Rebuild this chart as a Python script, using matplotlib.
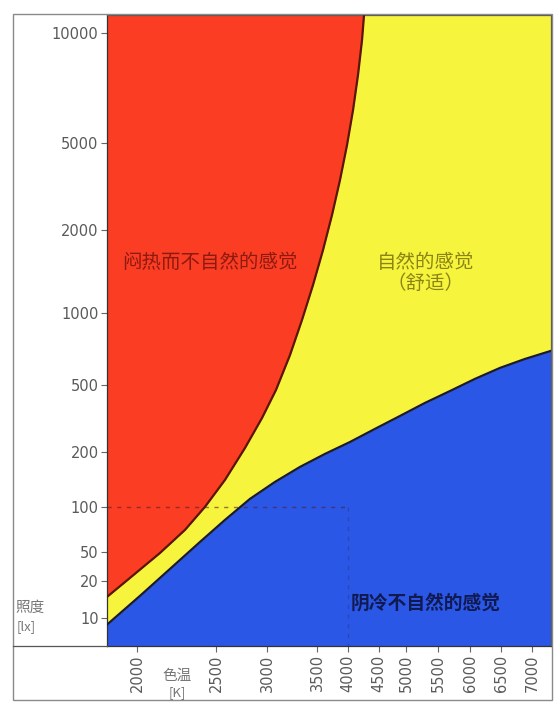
import numpy as np
import matplotlib
matplotlib.use("Agg")
import matplotlib.pyplot as plt
from matplotlib.lines import Line2D
from matplotlib.patches import Rectangle

# ---- data -------------------------------------------------------------
x_ticks = [2000, 2500, 3000, 3500, 4000, 4500, 5000, 5500, 6000, 6500, 7000]
y_ticks = [10, 20, 50, 100, 200, 500, 1000, 2000, 5000, 10000]

# lower comfort boundary (below: cold / unnatural)
t_low = [1810, 2019, 2209, 2399, 2588, 2833, 3080, 3330, 3629, 4032,
         4435, 4889, 5297, 5688, 6081, 6484, 6887, 7306]
e_low = [8.8, 15.1, 29.2, 58.3, 81.8, 110.6, 137, 165.5, 195, 229,
         274, 327, 391, 460, 530, 589, 642, 694]

# upper comfort boundary (above: hot / unnatural)
t_up = [1810, 1956, 2146, 2304, 2430, 2588, 2784, 2951, 3090, 3230,
        3350, 3460, 3597, 3742, 3871, 3984, 4081, 4161, 4226, 4258]
e_up = [14.8, 22.0, 48.4, 70.2, 100, 140.5, 211, 318, 467, 667,
        935, 1263, 1692, 2342, 3388, 4894, 6155, 7674, 9570, 11200]

ref_temp = 4000
ref_lux = 100

label_hot = "闷热而不自然的感觉"
label_ok = "自然的感觉\n（舒适）"
label_cold = "阴冷不自然的感觉"

# ---- axis scales (hand-spaced graduations) ---------------------------
_xk = np.array(x_ticks, dtype=float)
_xp = np.array([137, 216, 267, 317, 348, 379, 406, 438, 470, 501, 532], dtype=float)
_yk = np.log10(np.array(y_ticks, dtype=float))
_yp = -np.array([618, 581, 552, 507, 452, 385, 313, 230, 143, 33], dtype=float)


def _pw(v, xp, fp):
    v = np.asarray(v, dtype=float)
    out = np.interp(v, xp, fp)
    sl = (fp[1] - fp[0]) / (xp[1] - xp[0])
    sr = (fp[-1] - fp[-2]) / (xp[-1] - xp[-2])
    out = np.where(v < xp[0], fp[0] + (v - xp[0]) * sl, out)
    out = np.where(v > xp[-1], fp[-1] + (v - xp[-1]) * sr, out)
    return out


def x_fwd(v):
    return _pw(v, _xk, _xp)


def x_inv(p):
    return _pw(p, _xp, _xk)


def y_fwd(v):
    v = np.clip(np.asarray(v, dtype=float), 1e-3, None)
    return _pw(np.log10(v), _yk, _yp)


def y_inv(p):
    return 10 ** _pw(p, _yp, _yk)


# ---- figure -----------------------------------------------------------
plt.rcParams['font.family'] = ['Noto Sans CJK SC', 'DejaVu Sans']
W, H = 554, 713
fig = plt.figure(figsize=(W / 100, H / 100), dpi=100)
fig.patch.set_facecolor('white')

ax = fig.add_axes([107 / W, 1 - 646 / H, (551 - 107) / W, (646 - 15) / H])
ax.set_xscale('function', functions=(x_fwd, x_inv))
ax.set_yscale('function', functions=(y_fwd, y_inv))

xmin, xmax = 1810, 7306
ymin, ymax = 5.9, 11200
ax.set_xlim(xmin, xmax)
ax.set_ylim(ymin, ymax)

c_red = '#fb3d24'
c_yel = '#f6f43c'
c_blue = '#2b57e6'

ax.set_facecolor(c_yel)
ax.fill_between(t_low, ymin, e_low, color=c_blue, lw=0, zorder=1)
ax.fill_between(t_up, e_up, ymax, color=c_red, lw=0, zorder=1)
ax.plot(t_low, e_low, color='#1a1a30', lw=1.6, zorder=3,
        solid_joinstyle='round')
ax.plot(t_up, e_up, color='#5a1508', lw=1.6, zorder=3,
        solid_joinstyle='round')

# reference lines at 100 lx / 4000 K
ax.plot([xmin, ref_temp], [ref_lux, ref_lux], color='#5a1a30', lw=1.0,
        ls=(0, (3, 4)), alpha=0.6, zorder=2)
ax.plot([ref_temp, ref_temp], [ref_lux, ymin], color='#2a2a60', lw=1.0,
        ls=(0, (3, 4)), alpha=0.35, zorder=2)

# region labels
ax.text(2460, 1520, label_hot, color='#8c1a10', fontsize=14,
        ha='center', va='center', zorder=4)
ax.text(5300, 1400, label_ok, color='#8a8414', fontsize=14,
        ha='center', va='center', linespacing=1.0, zorder=4)
ax.text(5300, 13.2, label_cold, color='#101a50', fontsize=13.5,
        ha='center', va='center', fontweight='bold', zorder=4)

# ticks
ax.set_xticks(x_ticks)
ax.set_xticklabels([str(t) for t in x_ticks], rotation=90,
                   family='DejaVu Sans')
ax.set_yticks(y_ticks)
ax.set_yticklabels([str(t) for t in y_ticks], family='DejaVu Sans')
ax.minorticks_off()
ax.tick_params(axis='both', colors='#666666', labelcolor='#5a5a5a',
               labelsize=10.5, length=4, width=0.8, direction='out', pad=2)

for s in ax.spines.values():
    s.set_color('#555555')
    s.set_linewidth(0.9)
ax.spines['left'].set_color('#333333')
ax.spines['bottom'].set_color('#333333')

# axis captions
fig.text(15 / W, 1 - 608 / H, "照度", fontsize=10.5, color='#777777',
         ha='left', va='center')
fig.text(17 / W, 1 - 627 / H, "[lx]", fontsize=9.5, color='#777777',
         ha='left', va='center')
fig.text(177 / W, 1 - 676 / H, "色温", fontsize=10.5, color='#777777',
         ha='center', va='center')
fig.text(177 / W, 1 - 693 / H, "[K]", fontsize=9.5, color='#777777',
         ha='center', va='center')

# outer frame and baseline
fig.patches.append(Rectangle((13 / W, 1 - 700 / H), (552 - 13) / W,
                             (700 - 14) / H, transform=fig.transFigure,
                             fill=False, edgecolor='#8a8a8a', lw=1.0))
fig.lines.append(Line2D([13 / W, 107 / W], [1 - 646 / H, 1 - 646 / H],
                        transform=fig.transFigure, color='#555555', lw=0.9))

fig.savefig('out.png', dpi=100)
